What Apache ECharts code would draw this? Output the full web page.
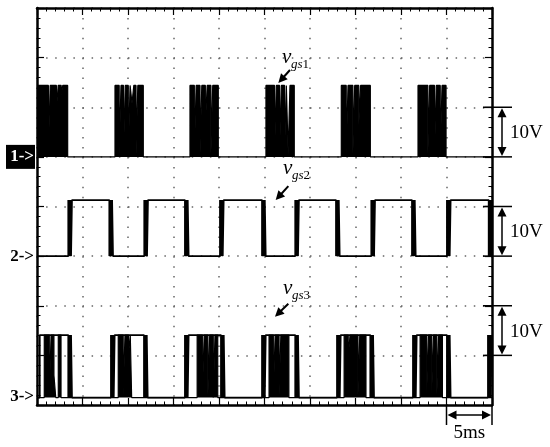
<!DOCTYPE html>
<html>
<head>
<meta charset="utf-8">
<script src="https://cdn.jsdelivr.net/npm/echarts@6/dist/echarts.min.js"></script>
<style>
  html, body { margin: 0; padding: 0; background: #fff; }
  #main { width: 550px; height: 447px; }
</style>
</head>
<body>
<div id="main"></div>
<script>
// time in ms (10 div x 5 ms/div), vertical scale in divisions (10 V/div)
// each channel: [time ms, level V], level holds until the next point

// vgs1 - dense PWM bursts (drawn filled), gaps are the light slits
const ch1Steps = [
  [0, 14.4], [1.25, 1.3], [1.45, 14.4], [2.13, 9.5], [2.33, 14.4], [2.66, 12.5], [2.83, 14.4], [3.37, 0],
  [8.57, 14.4], [9.03, 0.5], [9.23, 14.4], [9.5, 0.5], [9.7, 14.4], [10.03, 0.5], [10.23, 14.4], [10.44, 10.8], [10.64, 14.4], [10.88, 0.5], [11.08, 14.4], [11.68, 0],
  [16.81, 14.4], [17.29, 0.5], [17.49, 14.4], [17.91, 0.5], [18.11, 14.4], [18.5, 6.3], [18.7, 14.4], [19.11, 0.5], [19.31, 14.4], [19.92, 0],
  [25.16, 14.4], [26.1, 0.5], [26.3, 14.4], [26.65, 0.5], [26.85, 14.4], [27.2, 0.5], [27.4, 14.4], [27.6, 0.5], [27.8, 14.4], [28.27, 0],
  [33.44, 14.4], [33.98, 0.5], [34.18, 14.4], [34.71, 0.5], [34.91, 14.4], [35.36, 6.3], [35.56, 14.4], [36.63, 0],
  [41.87, 14.4], [42.95, 0.5], [43.15, 14.4], [43.68, 0.5], [43.88, 14.4], [44.31, 0.5], [44.51, 14.4], [44.95, 0],
  [50, 0]
];

// vgs2 - square wave, edges are jittery (thick bands)
const ch2Steps = [
  [0, 0],
  [3.44, 11.3], [3.54, 0], [3.64, 11.3], [3.74, 0], [3.84, 11.3],
  [7.95, 0], [8.05, 11.3], [8.15, 0], [8.25, 11.3], [8.35, 0],
  [11.79, 11.3], [11.89, 0], [11.99, 11.3], [12.09, 0], [12.19, 11.3],
  [16.26, 0], [16.36, 11.3], [16.46, 0], [16.56, 11.3], [16.66, 0],
  [20.11, 11.3], [20.21, 0], [20.31, 11.3], [20.41, 0], [20.51, 11.3],
  [24.73, 0], [24.83, 11.3], [24.93, 0], [25.03, 11.3], [25.13, 0],
  [28.38, 11.3], [28.48, 0], [28.58, 11.3], [28.68, 0], [28.78, 11.3],
  [32.86, 0], [32.96, 11.3], [33.06, 0], [33.16, 11.3], [33.26, 0],
  [36.74, 11.3], [36.84, 0], [36.94, 11.3], [37.04, 0], [37.14, 11.3],
  [41.21, 0], [41.31, 11.3], [41.41, 0], [41.51, 11.3], [41.61, 0],
  [45.05, 11.3], [45.15, 0], [45.25, 11.3], [45.35, 0], [45.45, 11.3],
  [49.64, 0], [49.74, 11.3], [49.84, 0], [49.94, 11.3], [50, 0]
];

// vgs3 - envelope of each burst
const ch3Outline = [
  [0, 0], [0.3, 12.6],
  [3.44, 0], [3.54, 12.6], [3.64, 0], [3.74, 12.6], [3.84, 0],
  [8.13, 12.6], [8.23, 0], [8.33, 12.6], [8.43, 0], [8.53, 12.6],
  [11.76, 0], [11.86, 12.6], [11.96, 0], [12.06, 12.6], [12.16, 0],
  [16.26, 12.6], [16.36, 0], [16.46, 12.6], [16.56, 0], [16.66, 12.6],
  [20.22, 0], [20.32, 12.6], [20.42, 0], [20.52, 12.6], [20.62, 0],
  [24.73, 12.6], [24.83, 0], [24.93, 12.6], [25.03, 0], [25.13, 12.6],
  [28.38, 0], [28.48, 12.6], [28.58, 0], [28.68, 12.6], [28.78, 0],
  [32.97, 12.6], [33.07, 0], [33.17, 12.6], [33.27, 0], [33.37, 12.6],
  [36.63, 0], [36.73, 12.6], [36.83, 0], [36.93, 12.6], [37.03, 0],
  [41.32, 12.6], [41.42, 0], [41.52, 12.6], [41.62, 0], [41.72, 12.6],
  [45.05, 0], [45.15, 12.6], [45.25, 0], [45.35, 12.6], [45.45, 0],
  [49.56, 12.6], [49.66, 0], [49.76, 12.6], [49.86, 0], [49.96, 12.6], [50, 12.6]
];

// vgs3 - dense switching inside the bursts
const ch3Dense = [
  [0, 0], [0.8, 12.6], [1.35, 0.5], [1.55, 12.6], [1.86, 4.5], [2.06, 0], [2.34, 12.6], [2.64, 0],
  [8.93, 12.6], [9.47, 0.5], [9.67, 12.6], [10.05, 8.6], [10.25, 12.6], [10.4, 0],
  [17.6, 12.6], [18.17, 0.5], [18.37, 12.6], [18.78, 0.5], [18.98, 12.6], [19.37, 0], [19.56, 12.6], [19.86, 0],
  [25.5, 12.6], [25.97, 0.5], [26.17, 12.6], [26.6, 0.5], [26.8, 12.6], [27.68, 0],
  [33.75, 12.6], [34.2, 8], [34.4, 12.6], [35.27, 0.5], [35.47, 12.6], [36.15, 0],
  [42.1, 12.6], [42.82, 0.5], [43.02, 12.6], [43.37, 0.5], [43.57, 12.6], [43.94, 0.5], [44.14, 12.6], [44.55, 0],
  [50, 0]
];

// annotations, in [ms, div]
const traceNames = ['1', '2', '3'];
const markerLevels = [5, 3, 0.17];              // channel ground markers
const scaleSpans = [[5, 6], [3, 4], [1, 2]];      // 10V bars
const scaleText = '10V';
const timeSpan = [45, 50];
const timeText = '5ms';
const nameAt = [[26.92, 6.83], [27.03, 4.59], [27.03, 2.18]];
const arrowFrom = [[27.8, 6.75], [27.62, 4.41], [27.62, 2.04]];
const arrowTo = [[26.52, 6.49], [26.23, 4.13], [26.15, 1.78]];

const chart = echarts.init(document.getElementById('main'));

const frameLine = { show: true, onZero: false, lineStyle: { color: '#000', width: 2.5 } };
const majorTick = { show: true, inside: true, length: 7, lineStyle: { color: '#000', width: 1.2 } };
const minorTick = { show: true, splitNumber: 5, length: 3.5, lineStyle: { color: '#000', width: 1 } };

function xAx(pos, grid) {
  return {
    type: 'value', min: 0, max: 50, interval: 5, position: pos,
    axisLine: frameLine, axisTick: majorTick, minorTick: minorTick,
    axisLabel: { show: false },
    splitLine: grid ? { show: true, lineStyle: { color: '#666', width: 1.5, type: [1.5, 8.43] } } : { show: false }
  };
}
function yAx(pos, grid) {
  return {
    type: 'value', min: 0, max: 8, interval: 1, position: pos,
    axisLine: frameLine, axisTick: majorTick, minorTick: minorTick,
    axisLabel: { show: false },
    splitLine: grid ? { show: true, lineStyle: { color: '#666', width: 1.5, type: [1.5, 7.6] } } : { show: false }
  };
}

const option = {
  animation: false,
  backgroundColor: '#fff',
  grid: { left: 37, right: 58, top: 8, bottom: 42 },
  xAxis: [xAx('bottom', true), xAx('top', false)],
  yAxis: [
    yAx('left', true),
    yAx('right', false),
    { type: 'value', show: false, min: -50, max: 30 },
    { type: 'value', show: false, min: -30, max: 50 },
    { type: 'value', show: false, min: -1.5, max: 78.5 }
  ],
  series: [
    {
      name: 'vgs1', type: 'line', xAxisIndex: 0, yAxisIndex: 2, step: 'end', symbol: 'none',
      data: ch1Steps,
      lineStyle: { color: '#000', width: 1.2 },
      areaStyle: { color: '#000', opacity: 1 }
    },
    {
      name: 'vgs2', type: 'line', xAxisIndex: 0, yAxisIndex: 3, step: 'end', symbol: 'none',
      data: ch2Steps,
      lineStyle: { color: '#000', width: 1.8 }
    },
    {
      name: 'vgs3', type: 'line', xAxisIndex: 0, yAxisIndex: 4, step: 'end', symbol: 'none',
      data: ch3Outline,
      lineStyle: { color: '#000', width: 1.8 }
    },
    {
      name: 'vgs3 dense', type: 'line', xAxisIndex: 0, yAxisIndex: 4, step: 'end', symbol: 'none',
      data: ch3Dense,
      lineStyle: { color: '#000', width: 1.2 },
      areaStyle: { color: '#000', opacity: 1 }
    }
  ]
};

chart.setOption(option);

// ---- annotations ----
function P(t, d) {
  return chart.convertToPixel({ xAxisIndex: 0, yAxisIndex: 0 }, [t, d]);
}
function seg(a, b, w) {
  return { type: 'line', shape: { x1: a[0], y1: a[1], x2: b[0], y2: b[1] }, style: { stroke: '#000', lineWidth: w }, z: 100 };
}
function head(tip, from, len, half) {
  const dx = tip[0] - from[0], dy = tip[1] - from[1];
  const n = Math.sqrt(dx * dx + dy * dy);
  const ux = dx / n, uy = dy / n;
  const bx = tip[0] - ux * len, by = tip[1] - uy * len;
  return {
    type: 'polygon',
    shape: { points: [tip, [bx - uy * half, by + ux * half], [bx + uy * half, by - ux * half]] },
    style: { fill: '#000' }, z: 100
  };
}

const serif = '"Liberation Serif", "DejaVu Serif", serif';
const els = [];
const rightX = P(50, 0)[0];
const bottomY = P(0, 0)[1];

// channel markers on the left
traceNames.forEach(function (nm, i) {
  const y = P(0, markerLevels[i])[1];
  if (i === 0) {
    els.push({ type: 'rect', shape: { x: 6, y: y - 12, width: 29, height: 24 }, style: { fill: '#000' }, z: 100 });
  }
  els.push({
    type: 'text', z: 101,
    style: { text: nm + '->', x: 34, y: y, align: 'right', verticalAlign: 'middle',
             font: 'bold 17px ' + serif, fill: i === 0 ? '#fff' : '#000' }
  });
});

// trace names with arrows
nameAt.forEach(function (a, i) {
  const p = P(a[0], a[1]);
  els.push({ type: 'text', z: 101, style: { text: 'v', x: p[0], y: p[1] + 2, align: 'left', verticalAlign: 'bottom',
    font: 'italic 21px ' + serif, fill: '#000' } });
  els.push({ type: 'text', z: 101, style: { text: '{i|gs}{n|' + traceNames[i] + '}', x: p[0] + 9, y: p[1] + 5,
    align: 'left', verticalAlign: 'bottom', font: '13px ' + serif, fill: '#000',
    rich: { i: { fontStyle: 'italic', fontSize: 13, fontFamily: serif }, n: { fontSize: 13, fontFamily: serif } } } });
  const f = P(arrowFrom[i][0], arrowFrom[i][1]);
  const t = P(arrowTo[i][0], arrowTo[i][1]);
  els.push(seg(f, [t[0] + (f[0] - t[0]) * 0.4, t[1] + (f[1] - t[1]) * 0.4], 2));
  els.push(head(t, f, 9, 4.5));
});

// 10V scale bars on the right
scaleSpans.forEach(function (s) {
  const yTop = P(50, s[1])[1];
  const yBot = P(50, s[0])[1];
  const ax = rightX + 10;
  els.push(seg([rightX - 9, yTop], [rightX + 20, yTop], 1.5));
  els.push(seg([rightX - 9, yBot], [rightX + 20, yBot], 1.5));
  els.push(seg([ax, yTop + 8], [ax, yBot - 8], 1.5));
  els.push(head([ax, yTop + 1], [ax, yBot], 9, 4.5));
  els.push(head([ax, yBot - 1], [ax, yTop], 9, 4.5));
  els.push({ type: 'text', z: 101, style: { text: scaleText, x: rightX + 18, y: (yTop + yBot) / 2 + 1,
    align: 'left', verticalAlign: 'middle', font: '19px ' + serif, fill: '#000' } });
});

// 5ms time bar
const xa = P(timeSpan[0], 0)[0];
const xb = P(timeSpan[1], 0)[0];
const ty = bottomY + 10;
els.push(seg([xa, bottomY], [xa, bottomY + 20], 1.5));
els.push(seg([xb, bottomY], [xb, bottomY + 20], 1.5));
els.push(seg([xa + 8, ty], [xb - 8, ty], 1.5));
els.push(head([xa + 1, ty], [xb, ty], 9, 4.5));
els.push(head([xb - 1, ty], [xa, ty], 9, 4.5));
els.push({ type: 'text', z: 101, style: { text: timeText, x: (xa + xb) / 2, y: bottomY + 28,
  align: 'center', verticalAlign: 'middle', font: '19px ' + serif, fill: '#000' } });

chart.setOption({ graphic: els });
</script>
</body>
</html>
